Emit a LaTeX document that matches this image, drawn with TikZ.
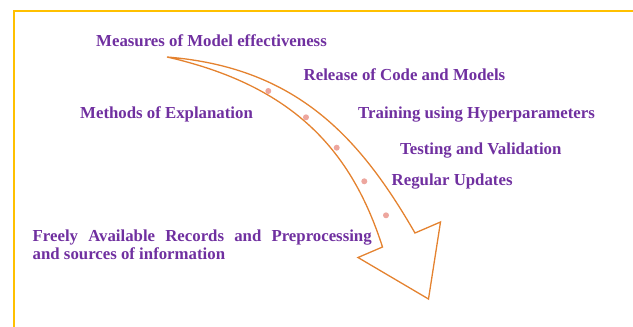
\documentclass[tikz,border=0pt]{standalone}
\usepackage{fontspec}
\setmainfont{Liberation Serif}
\definecolor{framegold}{HTML}{FFC000}
\definecolor{labelpurple}{HTML}{7030A0}
\definecolor{arroworange}{HTML}{E4822F}
\definecolor{dotpink}{HTML}{EDA69E}
\tikzset{
  frameline/.style={draw=framegold, line width=2.4pt},
  arrowline/.style={draw=arroworange, line width=1.3pt, line join=miter},
  stepdot/.style={circle, fill=dotpink, inner sep=0pt, minimum size=6pt},
  label/.style={inner sep=0pt, anchor=base west, text=labelpurple,
    font=\fontsize{16.8}{17.6}\selectfont\bfseries},
}
\begin{document}
\begin{tikzpicture}[x=1pt,y=-1pt]
  \useasboundingbox (0,0) rectangle (633,327);
  \clip (0,0) rectangle (633,327);
  % page frame, running off the right and bottom edges
  \draw[frameline] (14,11) rectangle (660,360);

  % curved block arrow
  \coordinate (S) at (167,57);
  \coordinate (O) at (415,233);
  \coordinate (R) at (440.5,222);
  \coordinate (T) at (428.5,299);
  \coordinate (L) at (358,257.5);
  \coordinate (I) at (382.5,247);
  \draw[arrowline] (S) .. controls (297,67.4) and (360,137.7) .. (O)
    -- (R) -- (T) -- (L) -- (I)
    .. controls (352,152) and (295,86) .. (S) -- cycle;

  % dots along the arrow
  \node[stepdot] (d1) at (268.3,91) {};
  \node[stepdot] (d2) at (306,117.3) {};
  \node[stepdot] (d3) at (336.7,147.7) {};
  \node[stepdot] (d4) at (364.3,181.3) {};
  \node[stepdot] (d5) at (386,215.3) {};

  % labels
  \node[label] (measures) at (96,46.7) {Measures of Model effectiveness};
  \node[label] (release) at (303.5,80) {Release of Code and Models};
  \node[label] (methods) at (80,118) {Methods of Explanation};
  \node[label] (training) at (358,118) {Training using Hyperparameters};
  \node[label] (testing) at (400,154) {Testing and Validation};
  \node[label] (updates) at (391.5,185.7) {Regular Updates};
  \node[label] (records) at (32.5,241.7)
    {\makebox[339pt][s]{Freely Available Records and Preprocessing}};
  \node[label] (sources) at (32.5,259.3) {and sources of information};
\end{tikzpicture}
\end{document}
